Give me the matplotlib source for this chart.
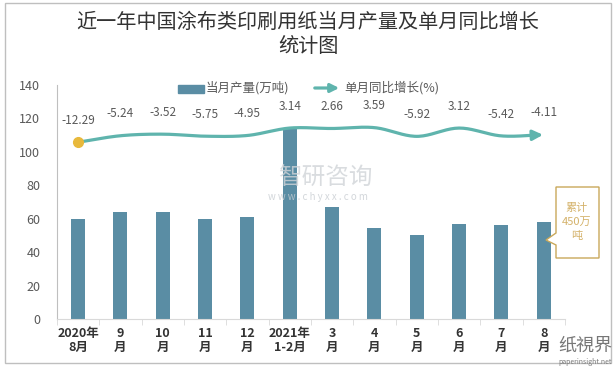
import numpy as np
import matplotlib
matplotlib.use("Agg")
from matplotlib import pyplot as plt
from matplotlib.patches import Rectangle, Polygon

plt.rcParams['font.family'] = ['Noto Sans CJK SC', 'DejaVu Sans']

# data
months = ["2020年\n8月", "9\n月", "10\n月", "11\n月", "12\n月", "2021年\n1-2月",
          "3\n月", "4\n月", "5\n月", "6\n月", "7\n月", "8\n月"]
output = [60, 64, 64, 60, 61, 114, 67, 54.5, 50, 57, 56, 58]
yoy = [-12.29, -5.24, -3.52, -5.75, -4.95, 3.14, 2.66, 3.59, -5.92, 3.12, -5.42, -4.11]

bar_color = "#5a8da4"
line_color = "#5fb4ad"
text_gray = "#595959"

fig = plt.figure(figsize=(6.16, 3.69), dpi=100)
ax = fig.add_axes([0.0925, 0.1355, 0.8245, 0.634])
x = np.arange(len(months))
ax.bar(x, output, width=0.33, color=bar_color, zorder=2)
ax.set_xlim(-0.5, len(months) - 0.5)
ax.set_ylim(0, 140)
ax.set_yticks(range(0, 141, 20))
ax.tick_params(axis='y', length=0, labelsize=9, labelcolor=text_gray, pad=12)
ax.set_xticks(x)
ax.set_xticklabels(months, fontsize=9, fontweight='bold', color="#333333", linespacing=1.1)
ax.tick_params(axis='x', length=0, pad=6)
ax.set_xticks(np.arange(-0.5, len(months)), minor=True)
ax.tick_params(axis='x', which='minor', length=4, color="#d9d9d9")
for s in ['top', 'right']:
    ax.spines[s].set_visible(False)
ax.spines['left'].set_color("#bfbfbf")
ax.spines['bottom'].set_color("#d9d9d9")

# secondary (hidden) axis for yoy line
ax2 = ax.twinx()
ax2.set_ylim(-205, 50)
ax2.axis('off')

# smooth curve through points (Catmull-Rom)
pts = np.column_stack([x, yoy]).astype(float)
ext = np.vstack([pts[0] - (pts[1] - pts[0]), pts, pts[-1] + (pts[-1] - pts[-2])])
curve = []
for i in range(1, len(ext) - 2):
    p0, p1, p2, p3 = ext[i - 1], ext[i], ext[i + 1], ext[i + 2]
    for t in np.linspace(0, 1, 20, endpoint=False):
        c = 0.5 * ((2 * p1) + (-p0 + p2) * t + (2 * p0 - 5 * p1 + 4 * p2 - p3) * t ** 2
                   + (-p0 + 3 * p1 - 3 * p2 + p3) * t ** 3)
        curve.append(c)
curve.append(pts[-1])
curve = np.array(curve)
ax2.plot(curve[:-4, 0], curve[:-4, 1], color=line_color, lw=2.3, zorder=3)
ax2.annotate('', xy=(curve[-1, 0] + 0.05, curve[-1, 1]), xytext=(curve[-6, 0], curve[-6, 1]),
             arrowprops=dict(arrowstyle='-|>,head_length=0.6,head_width=0.3',
                             color=line_color, lw=2.3))
ax2.plot(x[0], yoy[0], 'o', color="#e8b93c", ms=7, zorder=4)
for xi, v in zip(x, yoy):
    ax2.annotate(f"{v:.2f}", (xi, v), xytext=(0, 11), textcoords='offset points',
                 ha='center', va='bottom', fontsize=8.5, color=text_gray)

# legend
fig.patches.append(Rectangle((178 / 616, 1 - 93 / 369), 26 / 616, 8 / 369,
                             transform=fig.transFigure, color=bar_color))
fig.text(206 / 616, 1 - 88 / 369, "当月产量(万吨)", fontsize=9, color=text_gray, va='center')
ax.annotate('', xy=(342 / 616, 1 - 88 / 369), xytext=(312 / 616, 1 - 88 / 369),
            xycoords='figure fraction', textcoords='figure fraction',
            arrowprops=dict(arrowstyle='-|>,head_length=0.5,head_width=0.25',
                            color=line_color, lw=2.3))
fig.text(344 / 616, 1 - 88 / 369, "单月同比增长(%)", fontsize=9, color=text_gray, va='center')

# title
fig.text(0.5, 1 - 22 / 369, "近一年中国涂布类印刷用纸当月产量及单月同比增长", ha='center', va='center',
         fontsize=14.5, color="#333333")
fig.text(0.5, 1 - 47 / 369, "统计图", ha='center', va='center', fontsize=14.5, color="#333333")

# callout box
box = Polygon([(556, 187), (599, 187), (599, 258), (556, 258), (556, 245), (546, 240),
               (556, 233)], closed=True, fill=True, facecolor='white',
              edgecolor="#c9a85a", lw=1)
box.set_xy([(px / 616, 1 - py / 369) for px, py in box.get_xy()])
box.set_transform(fig.transFigure)
fig.patches.append(box)
fig.text(577 / 616, 1 - 222 / 369, "累计\n450万\n吨", ha='center', va='center', fontsize=8,
         color="#d4b26a", linespacing=1.5)

# watermarks
fig.text(325 / 616, 1 - 178 / 369, "智研咨询", ha='center', va='center', fontsize=17,
         color="#d0d4d8", alpha=0.8, zorder=1)
fig.text(318 / 616, 1 - 197 / 369, "w w w . c h y x x . c o m", ha='center', va='center',
         fontsize=7, color="#c8cdd2", alpha=0.8)
fig.text(585 / 616, 1 - 346 / 369, "纸視界", ha='center', va='center', fontsize=13,
         color="#555555", alpha=0.8)
fig.text(585 / 616, 1 - 362 / 369, "paperinsight.net", ha='center', va='center',
         fontsize=5, color="#777777")

# outer border
fig.patches.append(Rectangle((5 / 616, 6 / 369), 606 / 616, 360 / 369, transform=fig.transFigure,
                             fill=False, edgecolor="#bfbfbf", lw=1))

fig.savefig("out.png", dpi=100)
